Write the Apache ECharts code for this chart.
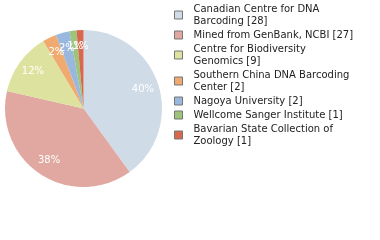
<!DOCTYPE html>
<html><head><meta charset="utf-8">
<script src="https://cdn.jsdelivr.net/npm/echarts@6/dist/echarts.min.js"></script>
<style>html,body{margin:0;padding:0;background:#fff}#c{width:380px;height:240px}</style>
</head><body><div id="c"></div>
<script>
const categories = ["Canadian Centre for DNA Barcoding","Mined from GenBank, NCBI","Centre for Biodiversity Genomics","Southern China DNA Barcoding Center","Nagoya University","Wellcome Sanger Institute","Bavarian State Collection of Zoology"];
const legendLabels = ["Canadian Centre for DNA\nBarcoding [28]","Mined from GenBank, NCBI [27]","Centre for Biodiversity\nGenomics [9]","Southern China DNA Barcoding\nCenter [2]","Nagoya University [2]","Wellcome Sanger Institute [1]","Bavarian State Collection of\nZoology [1]"];
const counts = [28,27,9,2,2,1,1];
const colors = ["#cfdbe6","#e0a8a0","#dde39f","#f0aa70","#9ab8de","#9cc47a","#d9674d"];
const total = counts.reduce((a,b)=>a+b,0);
const data = categories.map((n,i)=>({name:n,value:counts[i],itemStyle:{color:colors[i]}}));
const chart = echarts.init(document.getElementById('c'),null,{renderer:'canvas'});
chart.setOption({
  animation:false,
  legend:{orient:'vertical',left:174,top:3,padding:0,itemWidth:8,itemHeight:8,itemGap:2,
    icon:'rect',
    itemStyle:{borderColor:'#777',borderWidth:1},
    textStyle:{fontFamily:'DejaVu Sans',fontSize:10,color:'#222',lineHeight:12,padding:[0,0,0,6]},
    formatter:(n)=>legendLabels[categories.indexOf(n)],
    data:categories},
  series:[
    {type:'pie',center:[83.5,108.5],radius:[0,78.5],startAngle:90,clockwise:true,silent:true,
     label:{show:false},labelLine:{show:false},data:data},
    {type:'pie',center:[83.5,108.5],radius:[40.5,78.5],startAngle:90,clockwise:true,silent:true,
     legendHoverLink:false,
     labelLayout:{hideOverlap:false},
     label:{show:true,position:'inside',color:'#fff',fontFamily:'DejaVu Sans',fontSize:10,
       formatter:(p)=>Math.floor(p.value/total*100)+'%'},
     labelLine:{show:false},
     data:categories.map((n,i)=>({name:n+' ',value:counts[i],itemStyle:{color:'rgba(0,0,0,0)'}}))}
  ]
});
</script></body></html>
